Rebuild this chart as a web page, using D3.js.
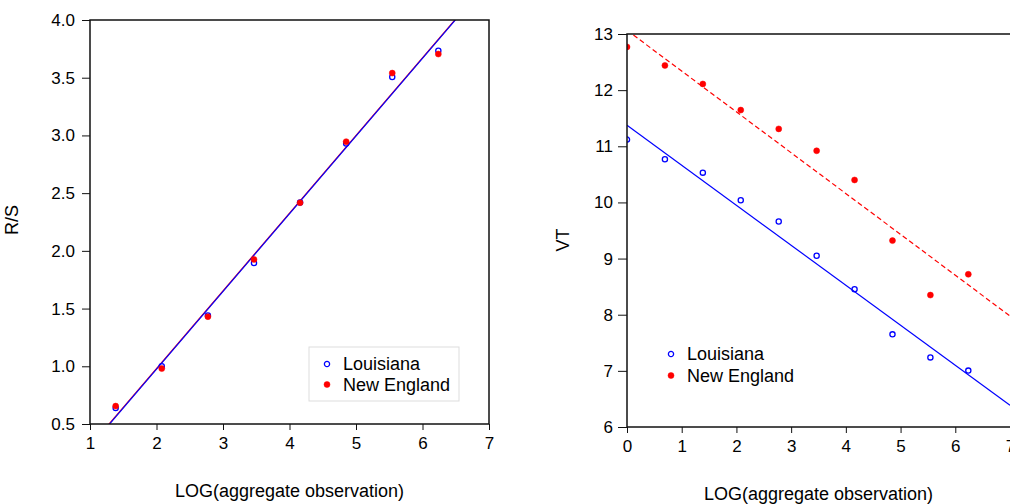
<!DOCTYPE html>
<html>
<head>
<meta charset="utf-8">
<script src="https://cdn.jsdelivr.net/npm/d3@7"></script>
<style>
  body { margin: 0; background: #fff; }
  text { font-family: "Liberation Sans", Arial, sans-serif; fill: #000; }
</style>
</head>
<body>
<div id="chart"></div>
<script>
// LOG(aggregate observation) values
const xRS = [1.386, 2.079, 2.773, 3.466, 4.159, 4.852, 5.545, 6.238];
const rsLouisiana = [0.638, 1.00, 1.44, 1.894, 2.42, 2.93, 3.506, 3.734];
const rsNewEngland = [0.655, 0.98, 1.43, 1.926, 2.417, 2.946, 3.54, 3.705];

const xVT = [0, 0.693, 1.386, 2.079, 2.773, 3.466, 4.159, 4.852, 5.545, 6.238];
const vtLouisiana = [11.12, 10.77, 10.53, 10.04, 9.66, 9.05, 8.455, 7.65, 7.24, 7.005];
const vtNewEngland = [12.77, 12.44, 12.11, 11.645, 11.31, 10.92, 10.40, 9.32, 8.35, 8.72];

const rsTicks = [0.5, 1.0, 1.5, 2.0, 2.5, 3.0, 3.5, 4.0];
const vtTicks = [6, 7, 8, 9, 10, 11, 12, 13];
const seriesNames = ["Louisiana", "New England"];

const blue = "#0000ff", red = "#ff0000";

const svg = d3.select("#chart").append("svg")
    .attr("width", 1010)
    .attr("height", 504);

// least squares line
function fit(xs, ys) {
  const mx = d3.mean(xs), my = d3.mean(ys);
  let sxy = 0, sxx = 0;
  xs.forEach((x, i) => { sxy += (x - mx) * (ys[i] - my); sxx += (x - mx) * (x - mx); });
  const b = sxy / sxx;
  return {a: my - b * mx, b: b};
}

function marker(sel, s) {
  sel.attr("r", s.filled ? 3 : 2.6)
    .attr("fill", s.filled ? s.color : "none")
    .attr("stroke", s.color)
    .attr("stroke-width", s.filled ? 0.5 : 1.3);
}

function panel(opt) {
  const g = svg.append("g").attr("transform", `translate(${opt.left},${opt.top})`);
  const x = d3.scaleLinear().domain(opt.xDomain).range([0, opt.width]);
  const y = d3.scaleLinear().domain(opt.yDomain).range([opt.height, 0]);

  g.append("clipPath").attr("id", opt.id)
    .append("rect").attr("width", opt.width).attr("height", opt.height);

  const plot = g.append("g").attr("clip-path", `url(#${opt.id})`);

  // regression lines
  opt.lineOrder.forEach(k => {
    const s = opt.series[k];
    const f = fit(opt.xs, s.ys);
    plot.append("path")
      .attr("d", d3.line()(x.domain().map(v => [x(v), y(f.a + f.b * v)])))
      .attr("fill", "none")
      .attr("stroke", s.color)
      .attr("stroke-width", 1.2)
      .attr("stroke-dasharray", s.dash || null);
  });

  // points
  opt.pointOrder.forEach(k => {
    const s = opt.series[k];
    plot.selectAll(null)
      .data(s.ys)
      .join("circle")
      .attr("cx", (d, i) => x(opt.xs[i]))
      .attr("cy", d => y(d))
      .call(marker, s);
  });

  // frame
  g.append("rect")
    .attr("width", opt.frameWidth || opt.width)
    .attr("height", opt.height)
    .attr("fill", "none")
    .attr("stroke", "#111")
    .attr("stroke-width", 1.5);

  const ya = g.append("g")
    .call(d3.axisLeft(y).tickValues(opt.yTicks).tickFormat(opt.yFormat)
      .tickSize(opt.yTickSize).tickPadding(opt.yPad));
  const xa = g.append("g").attr("transform", `translate(0,${opt.height})`)
    .call(d3.axisBottom(x).ticks(7).tickFormat(d3.format("d")).tickSize(6).tickPadding(7));
  [ya, xa].forEach(a => {
    a.select(".domain").remove();
    a.selectAll("line").attr("stroke", "#111");
    a.selectAll("text").style("font-size", "17px").attr("fill", "#000");
  });

  // titles
  g.append("text")
    .attr("x", opt.width / 2)
    .attr("y", opt.height + 73)
    .attr("text-anchor", "middle")
    .style("font-size", "18px")
    .text("LOG(aggregate observation)");
  g.append("text")
    .attr("transform", `translate(${opt.yTitleX},${opt.yTitleY}) rotate(-90)`)
    .attr("text-anchor", "middle")
    .style("font-size", "18px")
    .text(opt.yTitle);

  // legend
  const lg = g.append("g").attr("transform", `translate(${opt.legend.x},${opt.legend.y})`);
  if (opt.legend.box) {
    lg.append("rect")
      .attr("x", -18).attr("y", -17)
      .attr("width", 150).attr("height", 54)
      .attr("fill", "#fff")
      .attr("stroke", "#ddd");
  }
  opt.series.forEach((s, i) => {
    const row = lg.append("g").attr("transform", `translate(0,${i * opt.legend.gap})`);
    row.append("circle").call(marker, s);
    row.append("text")
      .attr("x", 16).attr("dy", "0.36em")
      .style("font-size", "18px")
      .text(seriesNames[i]);
  });
}

panel({
  id: "clipRS", left: 90, top: 20, width: 399, height: 404,
  xDomain: [1, 7], yDomain: [0.5, 4.0],
  xs: xRS, yTicks: rsTicks, yFormat: d3.format(".1f"),
  yTickSize: 8, yPad: 7,
  series: [
    {ys: rsLouisiana, color: blue, filled: false},
    {ys: rsNewEngland, color: red, filled: true}
  ],
  lineOrder: [1, 0], pointOrder: [0, 1],
  yTitle: "R/S", yTitleX: -72, yTitleY: 200,
  legend: {x: 237, y: 344, gap: 20.5, box: true}
});

panel({
  id: "clipVT", left: 627, top: 34, width: 383, height: 393, frameWidth: 390,
  xDomain: [0, 7], yDomain: [6, 13],
  xs: xVT, yTicks: vtTicks, yFormat: d3.format("d"),
  yTickSize: 9, yPad: 5,
  series: [
    {ys: vtLouisiana, color: blue, filled: false},
    {ys: vtNewEngland, color: red, filled: true, dash: "5,3"}
  ],
  lineOrder: [0, 1], pointOrder: [0, 1],
  yTitle: "VT", yTitleX: -58, yTitleY: 206,
  legend: {x: 44, y: 320, gap: 21.5, box: false}
});
</script>
</body>
</html>
